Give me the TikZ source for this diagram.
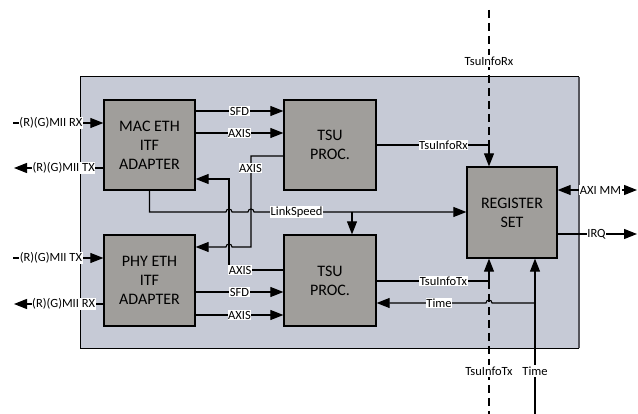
\documentclass[tikz,border=0pt]{standalone}
\usepackage{fontspec}
\setmainfont{Carlito}
\usetikzlibrary{arrows.meta}
\definecolor{panelfill}{RGB}{198,202,214}
\definecolor{blockfill}{RGB}{160,158,155}
\definecolor{shadowgray}{RGB}{85,85,92}
\begin{document}
\begin{tikzpicture}[x=1pt,y=-1pt,
  blk/.style={draw=black, line width=1.3pt, fill=blockfill, align=center,
              font=\fontsize{16}{19}\selectfont, inner sep=0pt},
  lbl/.style={fill=white, inner sep=0.6pt, font=\fontsize{12.5}{13}\selectfont},
  sigcap/.style={fill=white, inner sep=1.5pt, font=\fontsize{12.5}{13}\selectfont},
  wire/.style={line width=1.1pt},
  arr/.style={wire, -{Triangle[length=13pt,width=10pt]}},
  duplex/.style={wire, {Triangle[length=13pt,width=10pt]}-{Triangle[length=13pt,width=10pt]}},
  dashwire/.style={line width=1.1pt, dash pattern=on 8pt off 5pt}]

\useasboundingbox (0,0) rectangle (638,414);

% enclosing panel with its shaded right edge
\node[fill=panelfill, minimum width=498pt, minimum height=271pt, inner sep=0pt] (panel) at (330,212.5) {};
\draw[line width=1pt] (panel.south east) -- (panel.south west) -- (panel.north west) -- (panel.north east);
\draw[line width=2.4pt, shadowgray] ([yshift=-0.5pt]panel.north east) -- (panel.south east);

% functional blocks
\node[blk, minimum width=91pt, minimum height=90pt] (mac) at (149.5,145) {MAC ETH\\ITF\\ADAPTER};
\node[blk, minimum width=91pt, minimum height=91pt] (phy) at (149.5,280.5) {PHY ETH\\ITF\\ADAPTER};
\node[blk, minimum width=92pt, minimum height=90pt] (tsurx) at (330,145) {TSU\\PROC.};
\node[blk, minimum width=92pt, minimum height=91pt] (tsutx) at (330,280.5) {TSU\\PROC.};
\node[blk, minimum width=90pt, minimum height=91pt] (reg) at (512,212.5) {REGISTER\\SET};

% free ends of external signals
\coordinate (macRxIn) at (13,123);
\coordinate (macTxOut) at (14,168);
\coordinate (phyTxIn) at (13,258);
\coordinate (phyRxOut) at (14,304);
\coordinate (axiEnd) at (637,190);
\coordinate (irqEnd) at (637,234);
\coordinate (rxTop) at (489,10);
\coordinate (txBot) at (489,414);
\coordinate (timeBot) at (535,414);

% MII interfaces
\draw[arr] (macRxIn) -- (mac.west |- macRxIn) node[lbl, pos=0.42] {(R)(G)MII RX};
\draw[arr] (mac.west |- macTxOut) -- (macTxOut) node[lbl, pos=0.444] {(R)(G)MII TX};
\draw[arr] (phyTxIn) -- (phy.west |- phyTxIn) node[lbl, pos=0.42] {(R)(G)MII TX};
\draw[arr] (phy.west |- phyRxOut) -- (phyRxOut) node[lbl, pos=0.444] {(R)(G)MII RX};

% adapter to TSU streams
\draw[arr] (mac.east |- 0,111) -- (tsurx.west |- 0,111) node[lbl, midway] {SFD};
\draw[arr] (mac.east |- 0,133) -- (tsurx.west |- 0,133) node[lbl, midway] {AXIS};
\draw[arr] (phy.east |- 0,292) -- (tsutx.west |- 0,292) node[lbl, midway] {SFD};
\draw[arr] (phy.east |- 0,315) -- (tsutx.west |- 0,315) node[lbl, midway] {AXIS};

% TSU back to the opposite adapter
\draw[arr] (tsurx.west |- 0,156) -- (251,156) -- (251,247) -- (232,247)
  arc[start angle=0, end angle=-180, radius=3] -- (phy.east |- 0,247);
\node[lbl] (axisRxLbl) at (250.5,168) {AXIS};
\draw[arr] (tsutx.west |- 0,270) -- (229,270) -- (229,179) -- (mac.east |- 0,179);
\node[lbl, anchor=west] (axisTxLbl) at (228,270) {AXIS};

% link speed
\draw[arr] (mac.south) -- (mac.south |- 0,212) -- (226,212)
  arc[start angle=180, end angle=360, radius=3] -- (248,212)
  arc[start angle=180, end angle=360, radius=3] -- (reg.west |- 0,212);
\node[lbl] (lsLbl) at (296.5,212) {LinkSpeed};
\draw[arr] (352,212) -- (tsutx.north -| 352,0);

% timestamp info towards the register set
\draw[dashwire] (rxTop) -- (489,145);
\draw[arr] (tsurx.east |- 0,145) -- (489,145) -- (reg.north -| 489,0);
\node[lbl] (rxLbl) at (443.5,145) {TsuInfoRx};
\node[sigcap] (rxCap) at (489,61) {TsuInfoRx};

\draw[dashwire] (489,281) -- (txBot);
\draw[arr] (tsutx.east |- 0,281) -- (489,281) -- (reg.south -| 489,0);
\node[lbl] (txLbl) at (443.5,281) {TsuInfoTx};
\node[sigcap] (txCap) at (489,371) {TsuInfoTx};

% time base
\draw[arr] (timeBot) -- (reg.south -| timeBot);
\draw[arr] (535,303) -- (492,303) arc[start angle=0, end angle=-180, radius=3] -- (tsutx.east |- 0,303);
\node[lbl] (timeLbl) at (439,303) {Time};
\node[sigcap] (timeCap) at (535,371) {Time};

% host interface
\draw[duplex] (reg.east |- 0,190) -- (axiEnd) node[lbl, pos=0.54] {AXI MM};
\draw[arr] (reg.east |- 0,234) -- (irqEnd) node[lbl, pos=0.49] {IRQ};
\end{tikzpicture}
\end{document}
